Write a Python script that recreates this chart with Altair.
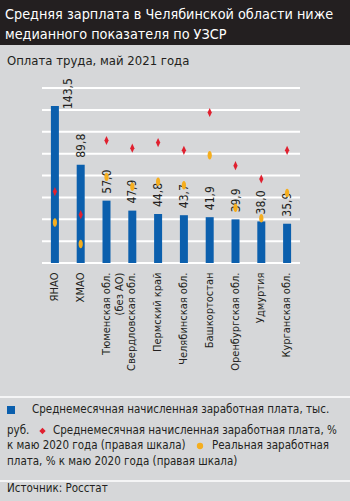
import altair as alt
import pandas as pd

FONT = "DejaVu Sans Condensed, DejaVu Sans, sans-serif"
TXT = "#231f20"
BG = "#d6d7d9"

regions = ["ЯНАО", "ХМАО", "Тюменская обл.\n(без АО)", "Свердловская обл.", "Пермский край",
           "Челябинская обл.", "Башкортостан", "Оренбургская обл.", "Удмуртия", "Курганская обл."]
wage = [143.5, 89.8, 57.0, 47.9, 44.8, 43.7, 41.9, 39.9, 38.0, 35.9]
nominal_pct = [100.2, 96.9, 107.5, 106.4, 107.2, 106.1, 111.5, 103.9, 102.0, 106.1]
real_pct = [95.8, 92.7, 102.3, 100.9, 101.6, 101.1, 105.4, 97.9, 96.4, 100.0]

left_ticks = [0, 20, 40, 60, 80, 100, 120, 140, 160]
right_ticks = [90, 95, 100, 105, 110, 115]

df = pd.DataFrame({"region": regions, "wage": wage, "nom": nominal_pct, "real": real_pct})
grid_df = pd.DataFrame({"wage": left_ticks})

W, H = 258, 175
fmt = "replace(format(datum.value, '.1f'), '.', ',')"

x = alt.X("region:N", sort=None, title=None,
          scale=alt.Scale(paddingInner=0, paddingOuter=0),
          axis=alt.Axis(labelAngle=270, labelAlign="right", labelBaseline="middle",
                        labelPadding=9, labelFont=FONT, labelFontSize=11, labelColor=TXT,
                        labelExpr="split(datum.label, '\\n')", labelLineHeight=13,
                        domain=False, ticks=False, labelLimit=200))

lscale = alt.Scale(domain=[0, 160], nice=False)
yl = alt.Y("wage:Q", title=None, scale=lscale,
           axis=alt.Axis(orient="left", values=left_ticks, labelExpr=fmt, grid=False,
                         domain=False, ticks=False,
                         labelPadding=6, labelFont=FONT, labelFontSize=13, labelColor=TXT))
yhid = alt.Y("wage:Q", scale=lscale, axis=None, title=None)

base = alt.Chart(df)

grid = alt.Chart(grid_df).mark_rule(color="#ffffff", strokeWidth=2, opacity=1).encode(
    y=yhid, x=alt.value(0), x2=alt.value(W))

bars = base.mark_bar(size=8, color="#0b5fad", opacity=1).encode(x=x, y=yl)

lbl = base.transform_calculate(t="replace(format(datum.wage, '.1f'), '.', ',')")
labels = lbl.transform_filter("datum.wage < 100").mark_text(
    angle=270, align="left", baseline="middle", dx=7, font=FONT, fontSize=12, color=TXT
).encode(x=x, y=yhid, text="t:N")
labels_top = lbl.transform_filter("datum.wage >= 100").mark_text(
    angle=270, align="left", baseline="middle", dx=-3, dy=13, font=FONT, fontSize=12, color=TXT
).encode(x=x, y=yhid, text="t:N")

left = alt.layer(grid, bars, labels, labels_top)

diamond = "M0,-1L0.46,0L0,1L-0.46,0Z"
oval = "M0,-1A0.5,1 0 1,1 0,1A0.5,1 0 1,1 0,-1Z"

yr_axis = alt.Axis(orient="right", values=right_ticks, labelExpr=fmt, grid=False,
                   domain=False, ticks=False, labelPadding=7,
                   labelFont=FONT, labelFontSize=13, labelColor=TXT)
yr = alt.Scale(domain=[90, 115], nice=False)

red = base.mark_point(shape=diamond, filled=True, size=85, color="#e0202f", opacity=1).encode(
    x=x, y=alt.Y("nom:Q", scale=yr, axis=yr_axis, title=None))
orange = base.mark_point(shape=oval, filled=True, size=72, color="#f5ae1e", opacity=1).encode(
    x=x, y=alt.Y("real:Q", scale=yr, axis=None, title=None))

right = alt.layer(red, orange)

deco_df = pd.DataFrame({"k": [0]})
d = alt.Chart(deco_df)

def txt(s, xv, yv, size=11.5, color=TXT, **kw):
    return d.mark_text(text=s, align="left", baseline="middle", font=FONT, fontSize=size,
                       color=color, **kw).encode(x=alt.value(xv), y=alt.value(yv))

band = d.mark_rect(color="#231f20").encode(
    x=alt.value(-42), x2=alt.value(308), y=alt.value(-88), y2=alt.value(-43))
title1 = txt("Средняя зарплата в Челябинской области ниже", -37, -73, size=14.3, color="white")
title2 = txt("медианного показателя по УЗСР", -37, -53, size=14.3, color="white")
subtitle = txt("Оплата труда, май 2021 года", -35, -27, size=13)

sep1 = d.mark_rule(color="white", strokeWidth=1.5).encode(
    x=alt.value(-42), x2=alt.value(308), y=alt.value(309))
sep2 = d.mark_rule(color="white", strokeWidth=1.5).encode(
    x=alt.value(-42), x2=alt.value(308), y=alt.value(393))

sq = d.mark_point(shape="square", filled=True, size=64, color="#0b5fad", opacity=1).encode(
    x=alt.value(-31), y=alt.value(322))
leg1 = txt("Среднемесячная начисленная заработная плата, тыс.", -10, 322)
leg2a = txt("руб.", -35, 343)
dm = d.mark_point(shape="diamond", filled=True, size=40, color="#e0202f", opacity=1).encode(
    x=alt.value(0.5), y=alt.value(343))
leg2b = txt("Среднемесячная начисленная заработная плата, %", 11, 343)
leg3a = txt("к маю 2020 года (правая шкала)", -35, 358)
ov = d.mark_point(shape="circle", filled=True, size=40, color="#f5ae1e", opacity=1).encode(
    x=alt.value(158), y=alt.value(358))
leg3b = txt("Реальная заработная", 170, 358)
leg4 = txt("плата, % к маю 2020 года (правая шкала)", -35, 374)
source = txt("Источник: Росстат", -35, 401, size=11.5)

main = alt.layer(left, right).resolve_scale(y="independent")

chart = alt.layer(
    band, sep1, sep2, main, title1, title2, subtitle, sq, leg1, leg2a, dm, leg2b,
    leg3a, ov, leg3b, leg4, source
).resolve_scale(y="independent").properties(
    width=W, height=H,
    autosize=alt.AutoSizeParams(type="none"),
    padding={"left": 42, "top": 88, "right": 50, "bottom": 238},
    background=BG,
).configure_view(stroke=None, fill=None)

chart.save("out.html", embed_options={"renderer": "svg", "actions": False})
